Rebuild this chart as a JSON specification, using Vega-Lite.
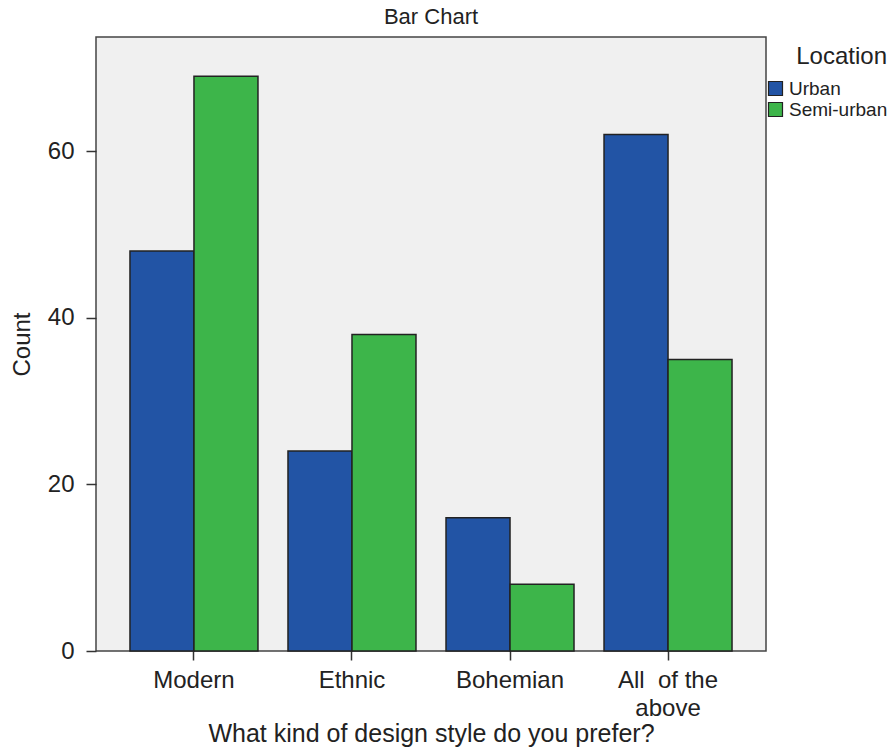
{
  "$schema": "https://vega.github.io/schema/vega-lite/v6.json",
  "autosize": {"type": "none"},
  "padding": {"left": 96, "top": 37, "right": 127, "bottom": 103},
  "width": 670,
  "height": 614,
  "background": "white",
  "title": {"text": "Bar Chart", "font": "Liberation Sans", "fontSize": 22, "fontWeight": "normal", "color": "#222", "offset": 8},
  "config": {
    "view": {"fill": "#f0f0f0", "stroke": "#444", "strokeWidth": 1.5},
    "axis": {"labelFont": "Liberation Sans", "titleFont": "Liberation Sans", "labelColor": "#222", "titleColor": "#222", "domain": false, "grid": false, "tickColor": "#333", "tickWidth": 1.5}
  },
  "data": {"values": [
    {"style": "Modern", "location": "Urban", "count": 48},
    {"style": "Modern", "location": "Semi-urban", "count": 69},
    {"style": "Ethnic", "location": "Urban", "count": 24},
    {"style": "Ethnic", "location": "Semi-urban", "count": 38},
    {"style": "Bohemian", "location": "Urban", "count": 16},
    {"style": "Bohemian", "location": "Semi-urban", "count": 8},
    {"style": "All  of the above", "location": "Urban", "count": 62},
    {"style": "All  of the above", "location": "Semi-urban", "count": 35}
  ]},
  "mark": {"type": "bar", "stroke": "#222", "strokeWidth": 1.5},
  "encoding": {
    "x": {
      "field": "style", "type": "nominal",
      "sort": ["Modern", "Ethnic", "Bohemian", "All  of the above"],
      "scale": {"paddingInner": 0.19, "paddingOuter": 0.215},
      "axis": {
        "title": "What kind of design style do you prefer?",
        "titleFontSize": 25, "titleFontWeight": "normal", "titlePadding": 1,
        "labelFontSize": 24, "labelAngle": 0, "labelPadding": 8, "tickSize": 9,
        "labelLineHeight": 28,
        "labelExpr": "datum.label == 'All  of the above' ? ['All\u00a0 of the', 'above'] : datum.label"
      }
    },
    "xOffset": {"field": "location", "type": "nominal", "sort": ["Urban", "Semi-urban"], "scale": {"paddingInner": 0, "paddingOuter": 0}},
    "y": {
      "field": "count", "type": "quantitative",
      "scale": {"domain": [0, 73.7], "nice": false},
      "axis": {"title": "Count", "titleFontSize": 24, "titleFontWeight": "normal", "labelFontSize": 24, "values": [0, 20, 40, 60], "tickSize": 10, "labelPadding": 12, "titlePadding": 13}
    },
    "color": {
      "field": "location", "type": "nominal",
      "sort": ["Urban", "Semi-urban"],
      "scale": {"domain": ["Urban", "Semi-urban"], "range": ["#2254a5", "#3db54a"]},
      "legend": {
        "title": "Location", "orient": "none", "legendX": 670, "legendY": 8, "titleAnchor": "end",
        "titleFont": "Liberation Sans", "titleFontSize": 24, "titleFontWeight": "normal", "titleColor": "#222",
        "labelFont": "Liberation Sans", "labelFontSize": 19, "labelColor": "#222",
        "symbolType": "square", "symbolSize": 196, "symbolStrokeColor": "#222", "symbolStrokeWidth": 1.2, "symbolOpacity": 1,
        "rowPadding": 1, "labelOffset": 4, "titlePadding": 10
      }
    }
  }
}
